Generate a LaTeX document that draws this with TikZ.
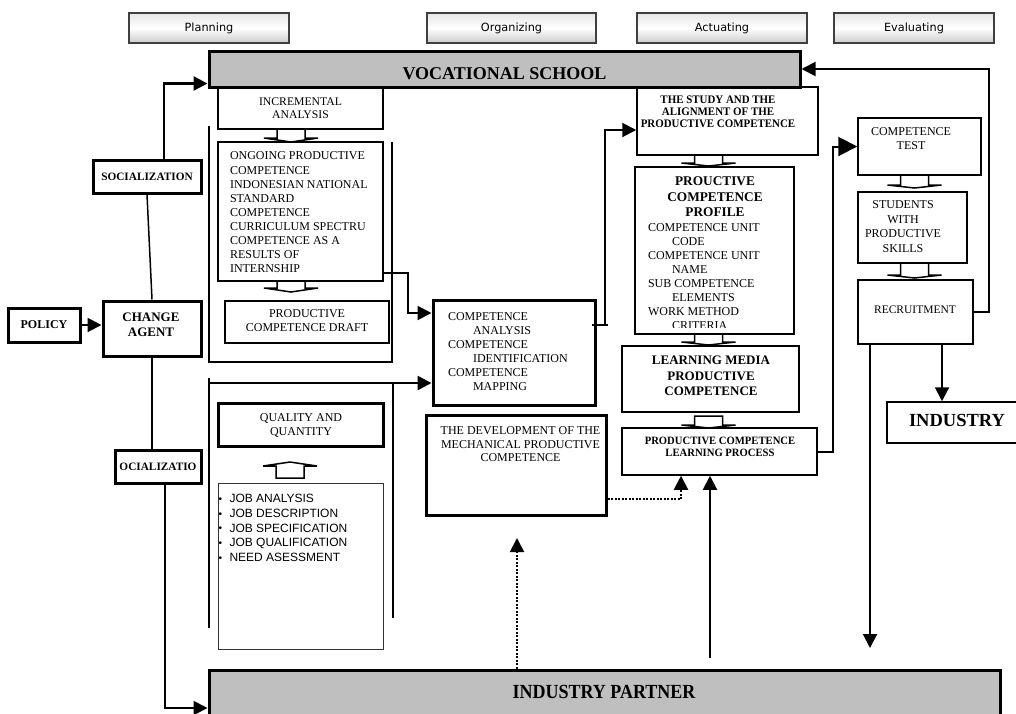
\documentclass[tikz,border=0pt]{standalone}
\usepackage{fontspec}
\usepackage{graphicx}
\setmainfont{Liberation Serif}
\newfontfamily\hdrfont{DejaVu Sans}
\newfontfamily\arialfont{Liberation Sans}
\newfontfamily\cserif[FakeStretch=0.95]{Liberation Serif}
\newfontfamily\nserif[FakeStretch=0.9]{Liberation Serif}
\usetikzlibrary{arrows.meta}
\newcommand\fs[2]{\fontsize{#1}{#2}\selectfont}
\newcommand\mkbox[7]{\node[#1, minimum width={(#4-#2)*1pt}, minimum height={(#5-#3)*1pt}] (#6) at ({(#2+#4)/2},{(#3+#5)/2}) {#7};}
\newcommand\harrow[4]{\draw[hollowarrow] ({#1-14},#2) -- ({#1-14},#3) -- ({#1-27},#3) -- (#1,#4) -- ({#1+27},#3) -- ({#1+14},#3) -- ({#1+14},#2) -- cycle;}
\newcommand\jb{\makebox[11pt][l]{\raisebox{0.5pt}{\fs{10}{12}\textbullet}}}
\begin{document}
\begin{tikzpicture}[x=1pt,y=-1pt,
 hdr/.style={draw=black!75, line width=1.2pt, top color=gray!20, bottom color=gray!40, middle color=white, inner sep=0pt, font=\hdrfont\fs{11.3}{13}},
 thinbox/.style={draw=black, line width=1.5pt, fill=white, inner sep=0pt},
 thickbox/.style={draw=black, line width=3pt, fill=white, inner sep=0pt},
 jobbox/.style={draw=black!80, line width=1pt, fill=white, inner sep=0pt},
 barbox/.style={draw=black, line width=3pt, fill=black!25, inner sep=0pt},
 brk/.style={draw=black, line width=2.5pt},
 conn/.style={draw=black, line width=2pt},
 dotc/.style={draw=black, line width=2pt, dash pattern=on 2pt off 1.5pt},
 arr/.style={-{Triangle[length=14pt,width=14pt]}},
 bigarr/.style={-{Triangle[length=19pt,width=19pt]}},
 hollowarrow/.style={draw=black, line width=1.5pt, fill=white, line join=miter},
 txt/.style={inner sep=0pt, outer sep=0pt}]
\useasboundingbox (0,0) rectangle (1016,713);
\clip (0,0) rectangle (1016,713);
\fill[white] (0,0) rectangle (1016,713);

% phase headers
\mkbox{hdr}{129}{13}{289}{43}{hplan}{Planning}
\mkbox{hdr}{427}{13}{596}{43}{horg}{Organizing}
\mkbox{hdr}{637}{13}{807}{43}{hact}{Actuating}
\mkbox{hdr}{834}{13}{994}{43}{heval}{Evaluating}

% left column
\mkbox{thickbox, font=\bfseries\fs{12}{14}}{8}{308}{80}{342}{pol}{POLICY}
\mkbox{thickbox}{103}{301}{201}{356}{ca}{}
\mkbox{thickbox, font=\bfseries\fs{11.3}{13}}{93}{160}{201}{193}{soc}{SOCIALIZATION}
\mkbox{thickbox, font=\bfseries\fs{11.3}{13}}{115}{450}{201}{483}{soct}{OCIALIZATIO}

% planning column
\mkbox{thinbox}{218}{87}{383}{129}{inc}{}
\mkbox{thinbox}{218}{142}{383}{281}{ong}{}
\mkbox{thinbox}{225}{301}{389}{343}{draft}{}
\mkbox{thickbox}{218}{403}{383}{446}{qq}{}
\mkbox{jobbox}{218}{483}{383}{649}{job}{}
\draw[brk] (209,126) -- (209,362) -- (392,362) -- (392,142);
\draw[brk] (209,378) -- (209,628);
\draw[brk] (393,383) -- (393,618);

% organizing column
\mkbox{thickbox}{433}{300}{595}{405}{comp}{}
\mkbox{thickbox}{426}{415}{606}{515}{dev}{}

% actuating column
\mkbox{thinbox}{637}{87}{818}{155}{study}{}
\mkbox{thinbox}{635}{167}{794}{334}{prof}{}
\mkbox{thinbox}{622}{346}{799}{412}{lm}{}
\mkbox{thinbox}{622}{428}{817}{475}{pcl}{}

% evaluating column
\mkbox{thinbox}{858}{118}{981}{175}{ctest}{}
\mkbox{thinbox}{858}{192}{967}{263}{stud}{}
\mkbox{thinbox}{858}{280}{973}{344}{rec}{}
\mkbox{thinbox}{887}{402}{1022}{443}{ind}{}

% bars
\mkbox{barbox}{209}{51}{800}{87}{voc}{}
\mkbox{barbox}{209}{670}{1000}{746}{ip}{}

% texts
\node[txt, font=\bfseries\fs{18}{20}, anchor=base] (tvoc) at (504.5,79) {VOCATIONAL SCHOOL};
\node[txt, font=\nserif\bfseries\fs{20}{22}, anchor=base] (tip) at (604,698) {INDUSTRY PARTNER};
\node[txt, font=\bfseries\fs{13}{15}, align=center, anchor=north] (tca) at (151,313) {CHANGE\\AGENT};
\node[txt, font=\fs{11.7}{13}, align=center, anchor=north] (tinc) at (300.5,97.5) {INCREMENTAL\\ANALYSIS};
\node[txt, font=\fs{12}{14.1}, align=left, anchor=north west] (tong) at (230,152) {ONGOING PRODUCTIVE\\COMPETENCE\\INDONESIAN NATIONAL\\STANDARD\\COMPETENCE\\CURRICULUM SPECTRU\\COMPETENCE AS A\\RESULTS OF\\INTERNSHIP};
\node[txt, font=\fs{12}{14}, align=center, anchor=north] (tdraft) at (307,310) {PRODUCTIVE\\COMPETENCE DRAFT};
\node[txt, font=\fs{12}{13.5}, align=center, anchor=north] (tqq) at (301,414) {QUALITY AND\\QUANTITY};
\node[txt, font=\arialfont\fs{12}{14.7}, align=left, anchor=north west] (tjob) at (218.5,494.5) {\jb JOB ANALYSIS\\\jb JOB DESCRIPTION\\\jb JOB SPECIFICATION\\\jb JOB QUALIFICATION\\\jb NEED ASESSMENT};
\node[txt, font=\fs{12}{14}, align=left, anchor=north west] (tcomp) at (448,313) {COMPETENCE\\\hspace*{25pt}ANALYSIS\\COMPETENCE\\\hspace*{25pt}IDENTIFICATION\\COMPETENCE\\\hspace*{25pt}MAPPING};
\node[txt, font=\fs{12}{13.5}, align=center, anchor=north] (tdev) at (520.5,427) {THE DEVELOPMENT OF THE\\MECHANICAL PRODUCTIVE\\COMPETENCE};
\node[txt, font=\cserif\bfseries\fs{11.5}{12}, align=center, anchor=north] (tstudy) at (718,96) {THE STUDY AND THE\\ALIGNMENT OF THE\\PRODUCTIVE COMPETENCE};
\node[txt, font=\bfseries\fs{13.3}{15.5}, align=center, anchor=north] (tproft) at (715,177) {PROUCTIVE\\COMPETENCE\\PROFILE};
\begin{scope}
\clip (636,168) rectangle (793,327);
\node[txt, font=\fs{12}{14}, align=left, anchor=north west] (tprofl) at (648,224) {COMPETENCE UNIT\\\hspace*{24pt}CODE\\COMPETENCE UNIT\\\hspace*{24pt}NAME\\SUB COMPETENCE\\\hspace*{24pt}ELEMENTS\\WORK METHOD\\\hspace*{24pt}CRITERIA};
\end{scope}
\node[txt, font=\bfseries\fs{13}{15.5}, align=center, anchor=north] (tlm) at (711,356) {LEARNING MEDIA\\PRODUCTIVE\\COMPETENCE};
\node[txt, font=\cserif\bfseries\fs{11.2}{12}, align=center, anchor=north] (tpcl) at (720,437.5) {PRODUCTIVE COMPETENCE\\LEARNING PROCESS};
\node[txt, font=\fs{12}{14}, align=center, anchor=north] (tctest) at (911,128) {COMPETENCE\\TEST};
\node[txt, font=\fs{12}{14.5}, align=center, anchor=north] (tstud) at (903,201) {STUDENTS\\WITH\\PRODUCTIVE\\SKILLS};
\node[txt, font=\fs{11.5}{13}, anchor=north] (trec) at (915,305.5) {RECRUITMENT};
\node[txt, font=\bfseries\fs{18.5}{21}, anchor=base] (tind) at (957,426) {INDUSTRY};

% connectors
\draw[conn, line width=2.5pt, arr] ([xshift=17pt]soc.north) |- ([yshift=5pt]voc.south west);
\draw[conn, line width=1.5pt] (soc.south) -- (ca.north);
\draw[conn, line width=1.8pt] (ca.south) -- (ca.south |- soct.north);
\draw[conn, arr] (pol.east) -- (pol.east -| ca.west);
\draw[conn, arr] ([xshift=7pt]soct.south) |- (ip.west);
\draw[conn, arr] ([yshift=9pt]ong.south east) -- ++(24,0) |- ([yshift=39.5pt]comp.west);
\coordinate (lbt) at (209,383);
\draw[conn, line width=2.5pt, arr] (lbt) -- (lbt -| comp.west);
\draw[conn, arr] ([yshift=27.5pt]comp.east) -- ++(8,0) |- ([yshift=-9pt]study.west);
\draw[conn] ([yshift=27.5pt,xshift=-5pt]comp.east) -- ++(16,0);
\draw[conn, bigarr] (pcl.east) -- ++(15,0) |- (ctest.west);
\draw[conn, arr] (rec.east) -- ++(15,0) |- (voc.east);
\draw[conn, arr] ([xshift=26.5pt]rec.south) -- ([xshift=26.5pt]rec.south |- ind.north);
\coordinate (recdown) at (870,648);
\draw[conn, arr] (rec.south -| recdown) -- (recdown);
\draw[dotc, arr] ([yshift=-34pt]dev.east) -| ([xshift=-38.5pt]pcl.south);
\coordinate (ipup) at (710,658);
\draw[conn, arr] (ipup) -- (ipup |- pcl.south);
\coordinate (devend) at (517,538);
\draw[dotc, arr] (devend |- ip.north) -- (devend);

% hollow block arrows
\harrow{291}{129}{138}{142}
\harrow{291}{281}{288}{292}
\harrow{290}{478}{466}{462}
\harrow{708.5}{155}{163}{166}
\harrow{708.5}{334}{342}{345}
\harrow{708.5}{416}{425}{428}
\harrow{914.5}{175}{185}{188}
\harrow{914.5}{263}{275}{278}
\end{tikzpicture}
\end{document}
